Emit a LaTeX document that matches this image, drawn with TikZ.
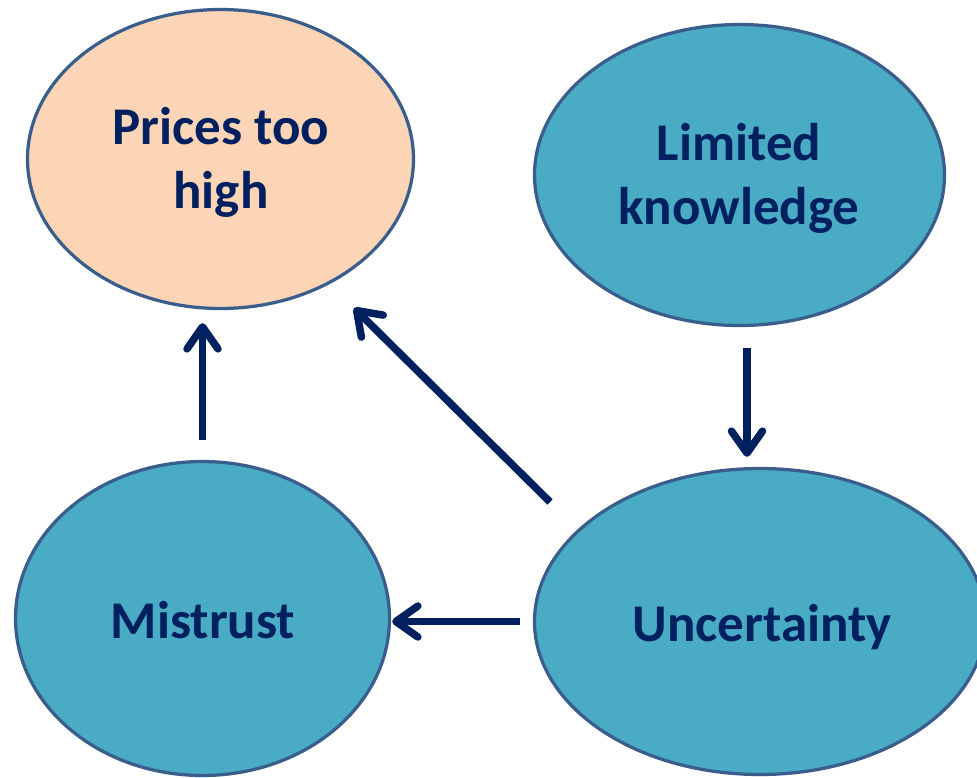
\documentclass[tikz,border=0pt]{standalone}
\usepackage{fontspec}
\setmainfont{Carlito}
\usetikzlibrary{shapes.geometric, arrows.meta}

\definecolor{navy}{HTML}{002060}
\definecolor{rim}{HTML}{3A5E8C}
\definecolor{teal}{HTML}{4AABC5}
\definecolor{peach}{HTML}{FBD5B5}

\tikzset{
	bubble/.style={ellipse, draw=rim, line width=3.25pt, inner sep=0pt},
	caption/.style={anchor=base, align=center, text=navy, font=\bfseries\fontsize{53}{64}\selectfont},
	arr/.style={draw=navy, line width=7.5pt, -{Straight Barb[length=22pt, width=31pt, round]}}
}

\begin{document}
\begin{tikzpicture}[x=1pt, y=-1pt]
	\clip (0,0) rectangle (977,777);
	
	% Ellipses
	\node[bubble, fill=peach, minimum width=386pt, minimum height=299pt] (pri) at (220.5,159) {};
	\node[bubble, fill=teal, minimum width=410pt, minimum height=301pt] (lim) at (739.5,175) {};
	\node[bubble, fill=teal, minimum width=374pt, minimum height=314pt] (mis) at (202.5,618.5) {};
	\node[bubble, fill=teal, minimum width=451pt, minimum height=306pt] (unc) at (760,621.5) {};
	
	% Labels (base sits on the last line)
	\node[caption] (pri-txt) at (221,208) {Prices too\\high};
	\node[caption] (lim-txt) at (739,224) {Limited\\knowledge};
	\node[caption] (mis-txt) at (203,638) {Mistrust};
	\node[caption] (unc-txt) at (762,641) {Uncertainty};
	
	% Free ends of the diagonal arrow
	\coordinate (d-start) at (550,502);
	\coordinate (d-end) at (354,308);
	
	% Arrows
	\draw[arr, shorten <=20pt, shorten >=13pt] (mis.north) -- (mis.north |- pri.south);
	\draw[arr, shorten <=21pt, shorten >=10pt] ([xshift=7.5pt]lim.south) -- ([xshift=7.5pt]lim.south |- unc.north);
	\draw[arr, shorten <=13pt, shorten >=1pt] (unc.west) -- (unc.west -| mis.east);
	\draw[arr] (d-start) -- (d-end);
\end{tikzpicture}
\end{document}
